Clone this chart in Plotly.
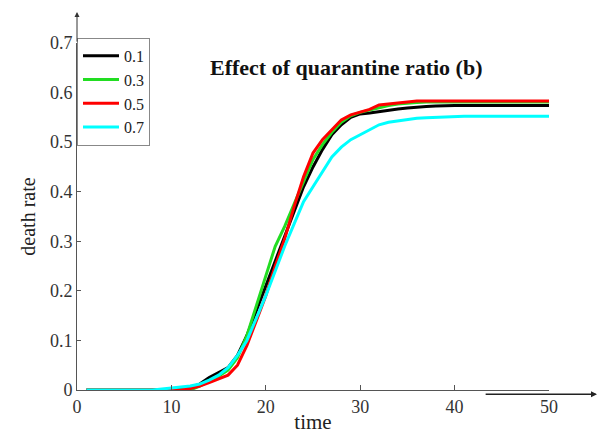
import plotly.graph_objects as go

time = list(range(1, 51))

ratio_01 = [0, 0, 0, 0, 0, 0, 0, 0, 0, 0,
            0.002, 0.005, 0.012, 0.025, 0.035, 0.045, 0.07, 0.11, 0.16, 0.21,
            0.26, 0.31, 0.36, 0.41, 0.45, 0.485, 0.515, 0.535, 0.55, 0.557,
            0.559, 0.562, 0.565, 0.567, 0.569, 0.571, 0.572, 0.573, 0.574, 0.574,
            0.574, 0.574, 0.574, 0.574, 0.574, 0.574, 0.574, 0.574, 0.574, 0.574]

ratio_03 = [0, 0, 0, 0, 0, 0, 0, 0, 0, 0,
            0, 0, 0.008, 0.018, 0.028, 0.04, 0.065, 0.11, 0.17, 0.23,
            0.29, 0.33, 0.375, 0.42, 0.465, 0.495, 0.52, 0.54, 0.553, 0.56,
            0.565, 0.57, 0.574, 0.577, 0.579, 0.58, 0.581, 0.581, 0.581, 0.581,
            0.581, 0.581, 0.581, 0.581, 0.581, 0.581, 0.581, 0.581, 0.581, 0.581]

ratio_05 = [0, 0, 0, 0, 0, 0, 0, 0, 0, 0,
            0, 0.003, 0.008, 0.015, 0.022, 0.03, 0.05, 0.09, 0.14, 0.19,
            0.25, 0.305, 0.37, 0.43, 0.478, 0.505, 0.525, 0.545, 0.555, 0.561,
            0.566, 0.575, 0.577, 0.58, 0.582, 0.583, 0.583, 0.583, 0.583, 0.583,
            0.583, 0.583, 0.583, 0.583, 0.583, 0.583, 0.583, 0.583, 0.583, 0.583]

ratio_07 = [0, 0, 0, 0, 0, 0, 0, 0, 0.002, 0.004,
            0.006, 0.008, 0.012, 0.02, 0.03, 0.045, 0.07, 0.1, 0.145, 0.19,
            0.24, 0.29, 0.335, 0.38, 0.41, 0.44, 0.47, 0.49, 0.505, 0.515,
            0.525, 0.535, 0.54, 0.543, 0.546, 0.548, 0.549, 0.55, 0.55, 0.552,
            0.552, 0.552, 0.552, 0.552, 0.552, 0.552, 0.552, 0.552, 0.552, 0.552]

series_names = ["0.1", "0.3", "0.5", "0.7"]
series_values = [ratio_01, ratio_03, ratio_05, ratio_07]
series_colors = ["#000000", "#22dd22", "#ff0000", "#00ffff"]

x_ticks = [0, 10, 20, 30, 40, 50]
y_ticks = [0, 0.1, 0.2, 0.3, 0.4, 0.5, 0.6, 0.7]
y_tick_labels = ["0", "0.1", "0.2", "0.3", "0.4", "0.5", "0.6", "0.7"]

FONT = "Liberation Serif"
AXIS_COLOR = "#555555"

fig = go.Figure()
for name, vals, col in zip(series_names, series_values, series_colors):
    fig.add_trace(go.Scatter(x=time, y=vals, mode="lines", name=name,
                             line=dict(color=col, width=3)))

fig.update_layout(
    width=598, height=434,
    margin=dict(l=77, r=49, t=43, b=44),
    plot_bgcolor="white", paper_bgcolor="white",
    font=dict(family=FONT, color="#222222"),
    showlegend=True,
    legend=dict(x=0, y=1.015, xanchor="left", yanchor="top",
                bordercolor="#888888", borderwidth=1, bgcolor="white",
                font=dict(family=FONT, size=16, color="#222222"),
                itemwidth=36, tracegroupgap=0),
    xaxis=dict(range=[0, 50], tickvals=x_ticks, showgrid=False, zeroline=False,
               showline=True, linecolor=AXIS_COLOR, linewidth=1,
               ticks="inside", ticklen=5, tickcolor=AXIS_COLOR, automargin=False,
               tickfont=dict(family=FONT, size=18, color="#333333"),
               title=dict(text="time", font=dict(family=FONT, size=21, color="#222222"),
                          standoff=0)),
    yaxis=dict(range=[0, 0.7], tickvals=y_ticks, ticktext=y_tick_labels,
               showgrid=False, zeroline=False, automargin=False,
               showline=True, linecolor=AXIS_COLOR, linewidth=1,
               ticks="inside", ticklen=4, tickcolor=AXIS_COLOR,
               tickfont=dict(family=FONT, size=18, color="#333333"),
               title=dict(text="death rate", font=dict(family=FONT, size=20, color="#222222"),
                          standoff=8)),
)

# Title
fig.add_annotation(text="<b>Effect of quarantine ratio (b)</b>",
                   x=0.57, y=0.928, xref="paper", yref="paper",
                   xanchor="center", yanchor="middle",
                   showarrow=False, font=dict(family=FONT, size=22, color="#111111"))

# y-axis arrow extension
fig.add_annotation(x=0, y=1.089, xref="paper", yref="paper", text="",
                   showarrow=True, ax=0, ay=31, arrowhead=2, arrowsize=1,
                   arrowwidth=1, arrowcolor="#333333")

# stray arrow line under x-axis
fig.add_annotation(x=1.102, y=-0.012, xref="paper", yref="paper", text="",
                   showarrow=True, ax=-113, ay=0, arrowhead=2, arrowsize=0.8,
                   arrowwidth=1.5, arrowcolor="#222222")

fig.write_html("out.html")
